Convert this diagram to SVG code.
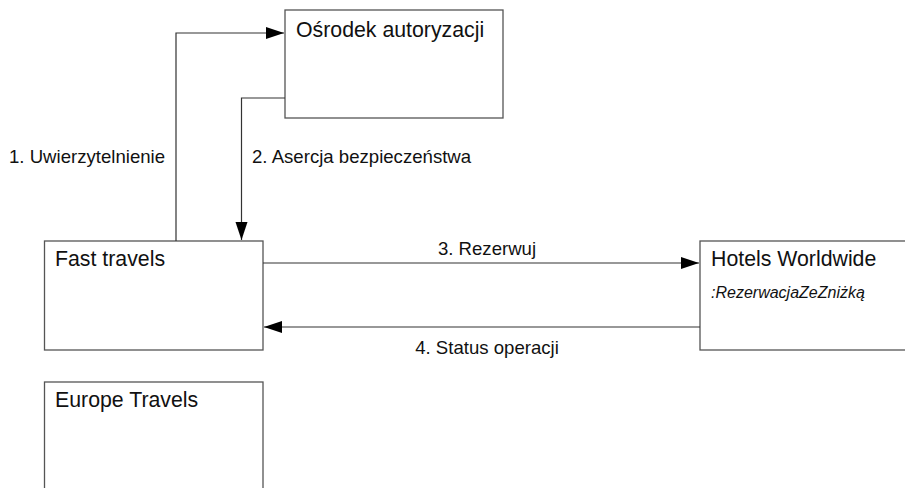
<svg xmlns="http://www.w3.org/2000/svg" width="905" height="488" viewBox="0 0 905 488">
<style>
.box{fill:#fff;stroke:#555;stroke-width:1.3}
.t{font-family:"Liberation Sans",Arial,sans-serif;font-size:21.3px;fill:#111}
.lbl{font-family:"Liberation Sans",Arial,sans-serif;font-size:18.6px;fill:#111}
.it{font-family:"Liberation Sans",Arial,sans-serif;font-size:16px;font-style:italic;fill:#111}
.c{fill:none;stroke:#333;stroke-width:1.2}
</style>
<defs>
<marker id="ah" markerUnits="userSpaceOnUse" markerWidth="19" markerHeight="13" refX="18" refY="6" orient="auto">
<path d="M0,0 L18,6 L0,12 z" fill="#000"/>
</marker>
</defs>
<rect width="905" height="488" fill="#fff"/>
<g id="osrodek">
<rect class="box" x="285" y="10" width="218" height="108"/>
<text class="t" x="296" y="37">Ośrodek autoryzacji</text>
</g>
<g id="fast-travels">
<rect class="box" x="44.5" y="241" width="218.5" height="109"/>
<text class="t" x="55" y="266">Fast travels</text>
</g>
<g id="europe-travels">
<rect class="box" x="44.5" y="382" width="218.5" height="120"/>
<text class="t" x="55" y="407">Europe Travels</text>
</g>
<g id="hotels-worldwide">
<rect class="box" x="700" y="241" width="220" height="109"/>
<text class="t" x="711" y="266">Hotels Worldwide</text>
<text class="it" x="711" y="298">:RezerwacjaZeZniżką</text>
</g>
<g id="connectors">
<polyline class="c" points="176,241 176,33 284,33" marker-end="url(#ah)"/>
<polyline class="c" points="285,98 241.5,98 241.5,240" marker-end="url(#ah)"/>
<line class="c" x1="263" y1="263" x2="699" y2="263" marker-end="url(#ah)"/>
<line class="c" x1="700" y1="327" x2="264" y2="327" marker-end="url(#ah)"/>
<text class="lbl" x="9" y="163">1. Uwierzytelnienie</text>
<text class="lbl" x="252" y="163">2. Asercja bezpieczeństwa</text>
<text class="lbl" x="487" y="255" text-anchor="middle">3. Rezerwuj</text>
<text class="lbl" x="487" y="354" text-anchor="middle">4. Status operacji</text>
</g>
</svg>
